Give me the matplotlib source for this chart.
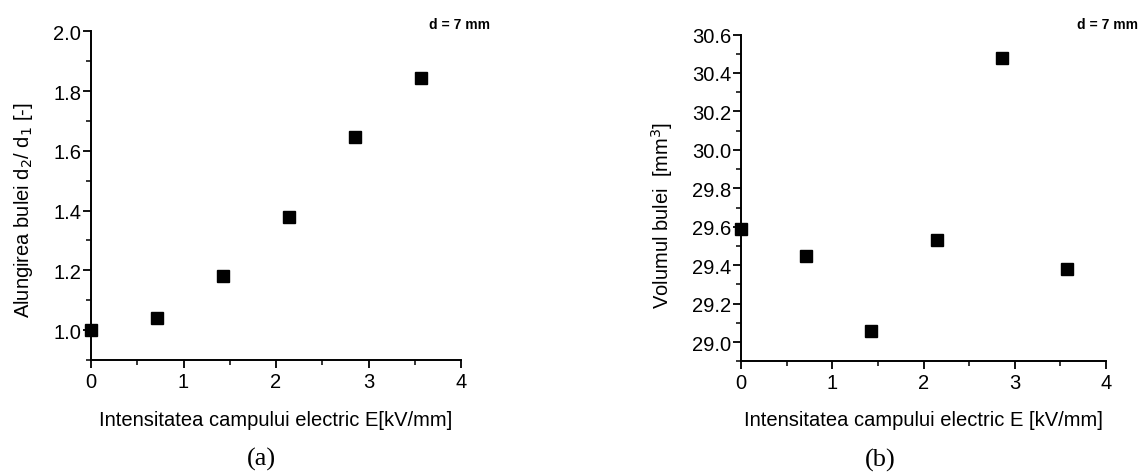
import matplotlib
matplotlib.use("Agg")
import matplotlib.pyplot as plt
from matplotlib.ticker import MultipleLocator, FormatStrFormatter

plt.rcParams['font.family'] = ['Liberation Sans', 'DejaVu Sans']

# Electric field strength E [kV/mm]
field = [0.0, 0.714, 1.429, 2.143, 2.857, 3.571]
# Bubble elongation d2/d1 [-]
elongation = [1.0, 1.042, 1.181, 1.378, 1.645, 1.845]
# Bubble volume [mm^3]
volume = [29.59, 29.45, 29.06, 29.53, 30.48, 29.38]

xlabel_a = "Intensitatea campului electric E[kV/mm]"
xlabel_b = "Intensitatea campului electric E [kV/mm]"
ylabel_a = "Alungirea bulei d$_2$/ d$_1$ [-]"
ylabel_b = "Volumul bulei  [mm$^3$]"
note = "d = 7 mm"

W, H = 1144, 477
fig = plt.figure(figsize=(W / 100, H / 100), dpi=100)


def px_rect(x0, x1, ytop, ybot):
    return [x0 / W, 1 - ybot / H, (x1 - x0) / W, (ybot - ytop) / H]


def panel(x0, x1, ytop, ybot, x, y, ylim, xlabel, ylabel, ylab_x, ylab_y):
    ax = fig.add_axes(px_rect(x0, x1, ytop, ybot))
    ax.plot(x, y, linestyle='none', marker='s', markersize=9,
            color='black', clip_on=False, zorder=5)
    ax.set_xlim(0, 4)
    ax.set_ylim(*ylim)
    ax.xaxis.set_major_locator(MultipleLocator(1))
    ax.xaxis.set_minor_locator(MultipleLocator(0.5))
    ax.yaxis.set_major_locator(MultipleLocator(0.2))
    ax.yaxis.set_minor_locator(MultipleLocator(0.1))
    ax.yaxis.set_major_formatter(FormatStrFormatter('%.1f'))
    for s in ('top', 'right'):
        ax.spines[s].set_visible(False)
    for s in ('left', 'bottom'):
        ax.spines[s].set_linewidth(1.4)
    ax.tick_params(which='major', direction='out', length=5.5, width=1.3,
                   labelsize=14.5)
    ax.tick_params(axis='y', which='major', pad=1.5)
    ax.tick_params(axis='x', which='major', pad=3)
    ax.tick_params(which='minor', direction='out', length=3.3, width=1.1)
    ax.set_xlabel(xlabel, fontsize=14.5, va='center')
    ax.set_ylabel(ylabel, fontsize=14.5, va='center')
    h = ybot - ytop
    w = x1 - x0
    ax.xaxis.set_label_coords(0.5, (ybot - 421) / h)
    ax.yaxis.set_label_coords((ylab_x - x0) / w, (ybot - ylab_y) / h)
    return ax


ax1 = panel(91, 461, 32.3, 361, field, elongation, (0.9, 2.0),
            xlabel_a, ylabel_a, 23.5, 210)
ax2 = panel(741, 1106, 35.5, 362.3, field, volume, (28.9, 30.6),
            xlabel_b, ylabel_b, 662, 215)

fig.text(490 / W, 1 - 25 / H, note, fontsize=10, fontweight='bold',
         ha='right', va='center')
fig.text(1138 / W, 1 - 25 / H, note, fontsize=10, fontweight='bold',
         ha='right', va='center')

fig.text(261.5 / W, 1 - 459 / H, "(a)", fontsize=19,
         family='Liberation Serif', ha='center', va='center')
fig.text(880 / W, 1 - 460 / H, "(b)", fontsize=19,
         family='Liberation Serif', ha='center', va='center')

fig.savefig("out.png", dpi=100, facecolor='white')
